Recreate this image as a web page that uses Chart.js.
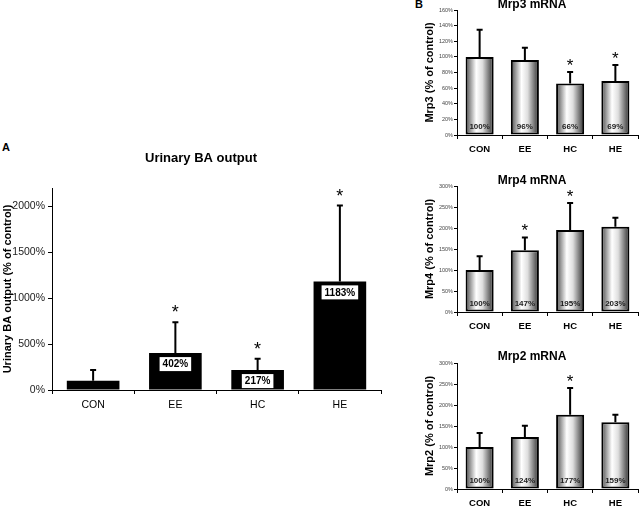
<!DOCTYPE html>
<html>
<head>
<meta charset="utf-8">
<script src="https://cdn.jsdelivr.net/npm/chart.js@4.4.0/dist/chart.umd.min.js"></script>
<style>
  body { margin: 0; background: #fff; width: 639px; height: 506px; position: relative; overflow: hidden; }
  canvas { position: absolute; }
  .lbl { position: absolute; font: bold 11px "Liberation Sans", Arial, sans-serif; color: #000; }
</style>
</head>
<body>
<div class="lbl" style="left:2px; top:141px">A</div>
<div class="lbl" style="left:415px; top:-2px">B</div>
<canvas id="chartA" width="402" height="290" style="left:0; top:130px"></canvas>
<canvas id="chartMrp3" width="219" height="165" style="left:420px; top:0"></canvas>
<canvas id="chartMrp4" width="219" height="175" style="left:420px; top:165px"></canvas>
<canvas id="chartMrp2" width="219" height="166" style="left:420px; top:340px"></canvas>
<script>
// groups
const groups = ['CON', 'EE', 'HC', 'HE'];

// A - urinary BA output (% of control)
const urinaryBA = [100, 402, 217, 1183];
const urinaryBAErr = [228, 750, 350, 2020];   // upper end of error bar
const urinaryBASig = [false, true, true, true];
const urinaryBABoxed = [false, true, true, true];
const urinaryTicks = [0, 500, 1000, 1500, 2000];

// B - mRNA (% of control)
const mrp3 = [100, 96, 66, 69];
const mrp3Err = [136, 113, 82, 91];
const mrp3Sig = [false, false, true, true];
const mrp3Ticks = [0, 20, 40, 60, 80, 100, 120, 140, 160];

const mrp4 = [100, 147, 195, 203];
const mrp4Err = [135, 180, 262, 227];
const mrp4Sig = [false, true, true, false];
const mrp4Ticks = [0, 50, 100, 150, 200, 250, 300];

const mrp2 = [100, 124, 177, 159];
const mrp2Err = [136, 153, 243, 179];
const mrp2Sig = [false, false, true, false];
const mrp2Ticks = [0, 50, 100, 150, 200, 250, 300];

const FONT = '"Liberation Sans", Arial, sans-serif';

// grey cylinder shading for the B bars
function cylinder(c) {
  const xs = c.chart.scales.x;
  if (!xs || c.dataIndex === undefined) return '#bbb';
  const cx = xs.getPixelForValue(c.dataIndex);
  const half = xs.width / groups.length * 0.62 / 2;
  if (!isFinite(cx) || !isFinite(half) || half <= 0) return '#bbb';
  const g = c.chart.ctx.createLinearGradient(cx - half, 0, cx + half, 0);
  g.addColorStop(0, '#4a4a4a');
  g.addColorStop(0.38, '#ffffff');
  g.addColorStop(0.6, '#dedede');
  g.addColorStop(1, '#2e2e2e');
  return g;
}

function drawPanel(id, p) {
  const extras = {
    id: 'extras',
    afterDatasetsDraw(chart) {
      const ctx = chart.ctx;
      const ys = chart.scales.y;
      const area = chart.chartArea;
      const meta = chart.getDatasetMeta(0);
      ctx.save();
      meta.data.forEach((bar, i) => {
        // error bar (upper only)
        const top = ys.getPixelForValue(p.errs[i]);
        ctx.strokeStyle = '#000';
        ctx.lineWidth = 2;
        ctx.beginPath();
        ctx.moveTo(bar.x, bar.y);
        ctx.lineTo(bar.x, top);
        ctx.moveTo(bar.x - 3, top + 1);
        ctx.lineTo(bar.x + 3, top + 1);
        ctx.stroke();

        ctx.textAlign = 'center';
        if (p.sig[i]) {
          ctx.fillStyle = '#000';
          ctx.font = p.starFont + FONT;
          ctx.textBaseline = 'alphabetic';
          ctx.fillText('*', bar.x, top + p.starDy);
        }

        const txt = p.values[i] + '%';
        ctx.textBaseline = 'middle';
        if (p.boxed) {
          if (!p.boxed[i]) return;
          ctx.font = 'bold 10px ' + FONT;
          const w = ctx.measureText(txt).width + 6;
          const cy = bar.y + 11;
          ctx.fillStyle = '#fff';
          ctx.fillRect(bar.x - w / 2, cy - 7, w, 14);
          ctx.fillStyle = '#000';
          ctx.fillText(txt, bar.x, cy + 0.5);
        } else {
          ctx.font = 'bold 8px ' + FONT;
          ctx.fillStyle = '#222';
          ctx.fillText(txt, bar.x, area.bottom - 8);
        }
      });
      // panel title
      ctx.fillStyle = '#000';
      ctx.textAlign = 'center';
      ctx.textBaseline = 'middle';
      ctx.font = 'bold ' + p.titleSize + 'px ' + FONT;
      ctx.fillText(p.title, p.titleX, area.top + p.titleDy);
      ctx.restore();
    }
  };

  return new Chart(document.getElementById(id), {
    type: 'bar',
    data: {
      labels: groups,
      datasets: [{
        data: p.values,
        backgroundColor: p.fill,
        borderColor: '#000',
        borderWidth: p.border,
        borderSkipped: false,
        barPercentage: p.barPct,
        categoryPercentage: 1
      }]
    },
    options: {
      responsive: false,
      animation: false,
      layout: { padding: { top: p.padTop, right: p.padRight, left: 0, bottom: 0 } },
      plugins: {
        legend: { display: false },
        tooltip: { enabled: false },
        title: { display: false }
      },
      scales: {
        x: {
          grid: { offset: true, drawOnChartArea: false, drawTicks: true, tickLength: 4, color: '#000' },
          border: { display: true, color: '#000', width: 1 },
          ticks: { font: p.xFont, color: '#000', padding: p.xPad, maxRotation: 0 },
          afterFit: s => { s.height = p.xHeight; }
        },
        y: {
          min: 0,
          max: p.yMax,
          afterBuildTicks: s => { s.ticks = p.ticks.map(v => ({ value: v })); },
          grid: { drawOnChartArea: false, drawTicks: true, tickLength: p.yTickLen, color: '#000' },
          border: { display: true, color: '#000', width: 1 },
          ticks: { callback: v => v + '%', font: p.yFont, color: p.yColor, padding: p.yPad },
          title: { display: true, text: p.yTitle, font: { family: FONT, size: 11, weight: 'bold' }, color: '#000', padding: { top: p.yTitlePad, bottom: 0 } },
          afterFit: s => { s.width = p.yWidth; }
        }
      }
    },
    plugins: [extras]
  });
}

// Panel A
drawPanel('chartA', {
  values: urinaryBA, errs: urinaryBAErr, sig: urinaryBASig, boxed: urinaryBABoxed, ticks: urinaryTicks,
  fill: '#000', border: 0, barPct: 0.64,
  yMax: 2200, yTitle: 'Urinary BA output (% of control)', yTitlePad: 1.4,
  yFont: { family: FONT, size: 10.5 }, yColor: '#222', yPad: 3, yTickLen: 4,
  xFont: { family: FONT, size: 10.5 }, xPad: 5,
  padTop: 58, padRight: 21, yWidth: 52, xHeight: 30,
  title: 'Urinary BA output', titleSize: 13, titleX: 201, titleDy: -30,
  starFont: '18px ', starDy: -3
});

// Panel B
const bCommon = {
  fill: cylinder, border: 2, barPct: 0.62,
  yTitlePad: 3.4, yFont: { family: FONT, size: 5.5 }, yColor: '#444', yPad: 1, yTickLen: 3,
  xFont: { family: FONT, size: 9.5, weight: 'bold' }, xPad: 5,
  padRight: 1, yWidth: 37, titleSize: 12, titleX: 112,
  starFont: '17px ', starDy: 0
};

drawPanel('chartMrp3', Object.assign({}, bCommon, {
  values: mrp3, errs: mrp3Err, sig: mrp3Sig, ticks: mrp3Ticks, yMax: 160,
  yTitle: 'Mrp3 (% of control)', title: 'Mrp3 mRNA', padTop: 10, xHeight: 30, titleDy: -5
}));

drawPanel('chartMrp4', Object.assign({}, bCommon, {
  values: mrp4, errs: mrp4Err, sig: mrp4Sig, ticks: mrp4Ticks, yMax: 300,
  yTitle: 'Mrp4 (% of control)', title: 'Mrp4 mRNA', padTop: 21, xHeight: 28, titleDy: -5
}));

drawPanel('chartMrp2', Object.assign({}, bCommon, {
  values: mrp2, errs: mrp2Err, sig: mrp2Sig, ticks: mrp2Ticks, yMax: 300,
  yTitle: 'Mrp2 (% of control)', title: 'Mrp2 mRNA', padTop: 23, xHeight: 17, titleDy: -6
}));
</script>
</body>
</html>
